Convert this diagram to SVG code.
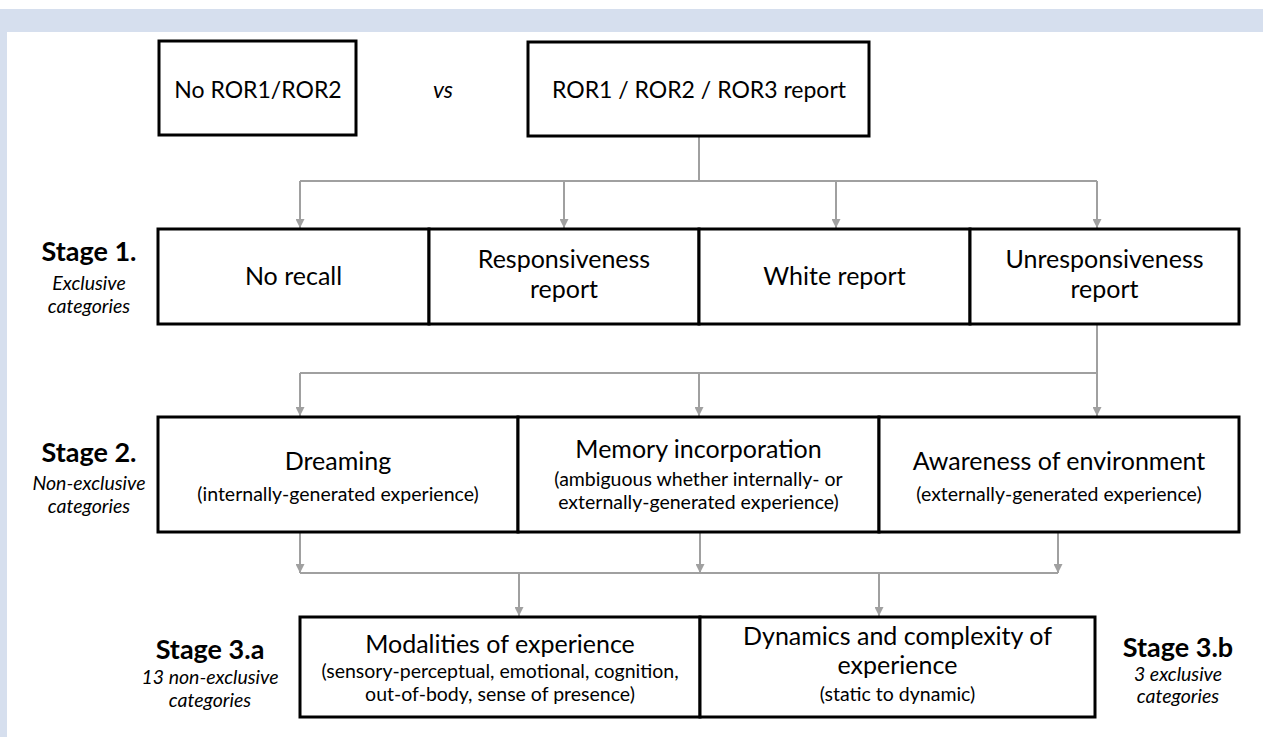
<svg xmlns="http://www.w3.org/2000/svg" width="1263" height="737" viewBox="0 0 1263 737">
<style>
.bg{fill:#d6dfee}
.node rect{fill:#fff;stroke:#000;stroke-width:3}
.t{font-family:Lato,"Open Sans","Liberation Sans",sans-serif;font-size:25px;fill:#000;text-anchor:middle}
.tt{font-family:Lato,"Open Sans","Liberation Sans",sans-serif;font-size:23px;fill:#000;text-anchor:middle}
.s{font-family:Lato,"Open Sans","Liberation Sans",sans-serif;font-size:19.5px;fill:#000;text-anchor:middle}
.lb{font-family:Lato,"Open Sans","Liberation Sans",sans-serif;font-size:27px;font-weight:bold;fill:#000;text-anchor:middle}
.li{font-family:Lato,"Open Sans","Liberation Sans",sans-serif;font-size:19.5px;font-style:italic;fill:#000;text-anchor:middle}
.vs{font-family:Lato,"Open Sans","Liberation Sans",sans-serif;font-size:23px;font-style:italic;fill:#000;text-anchor:middle}
.c path{fill:none;stroke:#a0a0a0;stroke-width:2}
</style>
<defs>
<marker id="ah" viewBox="0 0 10 10" refX="10" refY="5" markerUnits="userSpaceOnUse" markerWidth="9" markerHeight="9" orient="auto">
<path d="M0,0 L10,5 L0,10 z" fill="#a0a0a0"/>
</marker>
</defs>
<rect width="1263" height="737" fill="#fff"/>
<rect class="bg" x="0" y="9" width="1263" height="23"/>
<rect class="bg" x="0" y="9" width="7" height="728"/>

<g id="connectors" class="c">
<path d="M699,136 V181 M300,181 H1097"/>
<path d="M300,181 V228" marker-end="url(#ah)"/>
<path d="M564,181 V228" marker-end="url(#ah)"/>
<path d="M836,181 V228" marker-end="url(#ah)"/>
<path d="M1097,181 V228" marker-end="url(#ah)"/>
<path d="M1097,324 V373 M300,373 H1097"/>
<path d="M300,373 V416" marker-end="url(#ah)"/>
<path d="M699,373 V416" marker-end="url(#ah)"/>
<path d="M1097,373 V416" marker-end="url(#ah)"/>
<path d="M300,532 V573" marker-end="url(#ah)"/>
<path d="M700,532 V573" marker-end="url(#ah)"/>
<path d="M1058,532 V573" marker-end="url(#ah)"/>
<path d="M300,573 H1058"/>
<path d="M519,573 V616" marker-end="url(#ah)"/>
<path d="M879,573 V616" marker-end="url(#ah)"/>
</g>

<g id="no-ror" class="node">
<rect x="159" y="41" width="197" height="94"/>
<text class="tt" x="258" y="98">No ROR1/ROR2</text>
</g>
<text id="vs" class="vs" x="443" y="98">vs</text>
<g id="ror-report" class="node">
<rect x="528" y="42" width="341" height="94"/>
<text class="tt" x="699" y="98">ROR1 / ROR2 / ROR3 report</text>
</g>

<g id="stage1-label">
<text class="lb" x="89" y="261">Stage 1.</text>
<text class="li" x="89" y="290">Exclusive</text>
<text class="li" x="89" y="313">categories</text>
</g>
<g id="no-recall" class="node">
<rect x="158" y="229" width="271" height="95"/>
<text class="t" x="293.5" y="285">No recall</text>
</g>
<g id="responsiveness" class="node">
<rect x="429" y="229" width="270" height="95"/>
<text class="t" x="564" y="268">Responsiveness</text>
<text class="t" x="564" y="298">report</text>
</g>
<g id="white-report" class="node">
<rect x="699" y="229" width="271" height="95"/>
<text class="t" x="834.5" y="285">White report</text>
</g>
<g id="unresponsiveness" class="node">
<rect x="970" y="229" width="269" height="95"/>
<text class="t" x="1104.5" y="268">Unresponsiveness</text>
<text class="t" x="1104.5" y="298">report</text>
</g>

<g id="stage2-label">
<text class="lb" x="89" y="462">Stage 2.</text>
<text class="li" x="89" y="490">Non-exclusive</text>
<text class="li" x="89" y="513">categories</text>
</g>
<g id="dreaming" class="node">
<rect x="158" y="417" width="360" height="115"/>
<text class="t" x="338" y="470">Dreaming</text>
<text class="s" x="338" y="501">(internally-generated experience)</text>
</g>
<g id="memory" class="node">
<rect x="518" y="417" width="361" height="115"/>
<text class="t" x="698.5" y="458">Memory incorporation</text>
<text class="s" x="698.5" y="486">(ambiguous whether internally- or</text>
<text class="s" x="698.5" y="509">externally-generated experience)</text>
</g>
<g id="awareness" class="node">
<rect x="879" y="417" width="360" height="115"/>
<text class="t" x="1059" y="470">Awareness of environment</text>
<text class="s" x="1059" y="501">(externally-generated experience)</text>
</g>

<g id="stage3a-label">
<text class="lb" x="210" y="659">Stage 3.a</text>
<text class="li" x="210" y="684">13 non-exclusive</text>
<text class="li" x="210" y="707">categories</text>
</g>
<g id="modalities" class="node">
<rect x="300" y="617" width="400" height="100"/>
<text class="t" x="500" y="653">Modalities of experience</text>
<text class="s" x="500" y="678">(sensory-perceptual, emotional, cognition,</text>
<text class="s" x="500" y="701">out-of-body, sense of presence)</text>
</g>
<g id="dynamics" class="node">
<rect x="700" y="617" width="395" height="100"/>
<text class="t" x="897.5" y="645">Dynamics and complexity of</text>
<text class="t" x="897.5" y="674">experience</text>
<text class="s" x="897.5" y="701">(static to dynamic)</text>
</g>
<g id="stage3b-label">
<text class="lb" x="1178" y="657">Stage 3.b</text>
<text class="li" x="1178" y="681">3 exclusive</text>
<text class="li" x="1178" y="703">categories</text>
</g>
</svg>
